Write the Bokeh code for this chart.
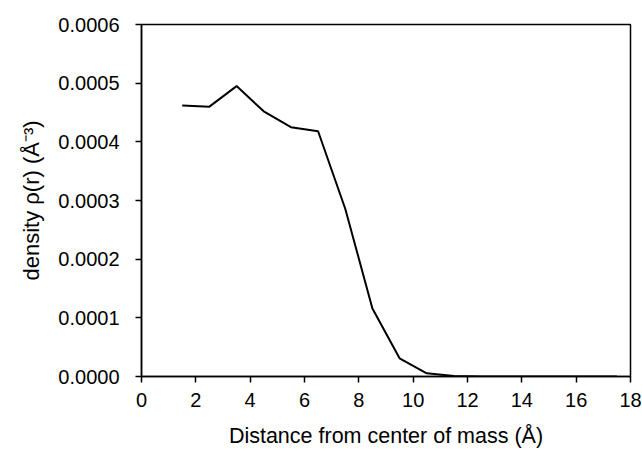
from bokeh.plotting import figure
from bokeh.models import Range1d, FixedTicker, NumeralTickFormatter
from bokeh.embed import file_html
from bokeh.resources import INLINE

# Data
distance = [1.5, 2.5, 3.5, 4.5, 5.5, 6.5, 7.5, 8.5, 9.5, 10.5, 11.5, 12.5, 13.5, 14.5, 15.5, 16.5, 17.5]
density = [0.000462, 0.000460, 0.000495, 0.000452, 0.000425, 0.000418, 0.000286, 0.000116,
           0.000031, 0.0000055, 0.000001, 0.0, 0.0, 0.0, 0.0, 0.0, 0.0]
x_ticks = [0, 2, 4, 6, 8, 10, 12, 14, 16, 18]
y_ticks = [0.0, 0.0001, 0.0002, 0.0003, 0.0004, 0.0005, 0.0006]
x_title = "Distance from center of mass (Å)"
y_title = "density ρ(r) (Å⁻³)"

FONT = "Liberation Sans"

p = figure(width=642, height=455, output_backend="svg", toolbar_location=None,
           x_range=Range1d(0, 18), y_range=Range1d(0, 0.0006),
           min_border_left=141, min_border_right=12, min_border_top=24, min_border_bottom=79)

p.line(distance, density, line_color="black", line_width=2)

p.xgrid.visible = False
p.ygrid.visible = False
p.outline_line_color = "black"
p.outline_line_width = 1.5
p.background_fill_color = "white"
p.border_fill_color = "white"

for ax in (p.xaxis[0], p.yaxis[0]):
    ax.axis_line_color = "black"
    ax.axis_line_width = 1.5
    ax.major_tick_line_color = "black"
    ax.major_tick_line_width = 1.5
    ax.minor_tick_line_color = None
    ax.major_tick_in = 0
    ax.major_tick_out = 6
    ax.major_label_text_font = FONT
    ax.major_label_text_font_size = "20px"
    ax.major_label_text_color = "black"
    ax.axis_label_text_font = FONT
    ax.axis_label_text_font_style = "normal"
    ax.axis_label_text_color = "black"

p.xaxis[0].ticker = FixedTicker(ticks=x_ticks)
p.yaxis[0].ticker = FixedTicker(ticks=y_ticks)
p.yaxis[0].formatter = NumeralTickFormatter(format="0.0000")
p.xaxis[0].major_label_standoff = 10
p.yaxis[0].major_label_standoff = 16
p.xaxis[0].axis_label = x_title
p.yaxis[0].axis_label = y_title
p.xaxis[0].axis_label_text_font_size = "21.5px"
p.yaxis[0].axis_label_text_font_size = "22px"
p.xaxis[0].axis_label_standoff = 14
p.yaxis[0].axis_label_standoff = 11

open("out.html", "w").write(file_html(p, INLINE))
